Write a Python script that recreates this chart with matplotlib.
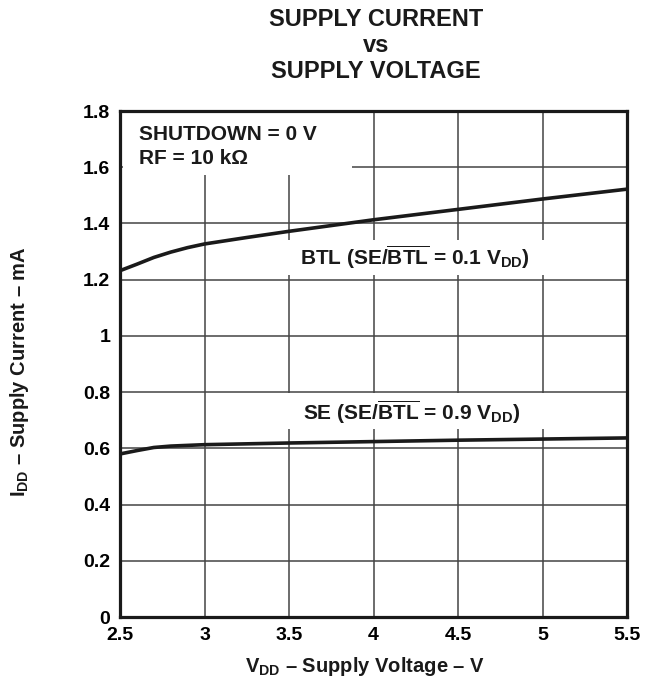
import matplotlib
matplotlib.use("Agg")
import matplotlib.pyplot as plt
from matplotlib.patches import Rectangle

plt.rcParams['font.family'] = ['Liberation Sans', 'DejaVu Sans']
plt.rcParams['font.weight'] = 'bold'
plt.rcParams['mathtext.fontset'] = 'custom'
plt.rcParams['mathtext.rm'] = 'Liberation Sans:bold'
plt.rcParams['mathtext.bf'] = 'Liberation Sans:bold'
plt.rcParams['mathtext.it'] = 'Liberation Sans:bold'
plt.rcParams['mathtext.default'] = 'rm'

# Data
vdd_btl = [2.5, 2.6, 2.7, 2.8, 2.9, 3.0, 3.25, 3.5, 4.0, 4.5, 5.0, 5.5]
idd_btl = [1.232, 1.255, 1.279, 1.298, 1.314, 1.327, 1.350, 1.372, 1.413, 1.450, 1.487, 1.522]
vdd_se = [2.5, 2.6, 2.7, 2.8, 3.0, 3.5, 4.0, 4.5, 5.0, 5.5]
idd_se = [0.580, 0.592, 0.603, 0.608, 0.613, 0.619, 0.624, 0.629, 0.633, 0.637]
xticks = [2.5, 3, 3.5, 4, 4.5, 5, 5.5]
xticklabels = ['2.5', '3', '3.5', '4', '4.5', '5', '5.5']
yticks = [0, 0.2, 0.4, 0.6, 0.8, 1.0, 1.2, 1.4, 1.6, 1.8]
yticklabels = ['0', '0.2', '0.4', '0.6', '0.8', '1', '1.2', '1.4', '1.6', '1.8']

fig = plt.figure(figsize=(6.46, 6.83), dpi=100)
ax = fig.add_axes([120/646, 66/683, 507/646, 506/683])

ax.set_xlim(2.5, 5.5)
ax.set_ylim(0, 1.8)
ax.set_xticks(xticks)
ax.set_xticklabels(xticklabels, fontsize=14, fontweight='bold')
ax.set_yticks(yticks)
ax.set_yticklabels(yticklabels, fontsize=14, fontweight='bold')
ax.tick_params(length=0, pad=7)
ax.grid(True, color='#444444', linewidth=1.1, zorder=1)
ax.set_axisbelow(True)
for s in ax.spines.values():
    s.set_linewidth(2.3)
    s.set_color('#1a1a1a')
    s.set_zorder(5)

ax.plot(vdd_btl, idd_btl, color='#1a1a1a', linewidth=2.6, zorder=4, solid_capstyle='butt')
ax.plot(vdd_se, idd_se, color='#1a1a1a', linewidth=2.6, zorder=4, solid_capstyle='butt')

# white backgrounds behind the annotations (they interrupt the grid)
ax.add_patch(Rectangle((0.005, 0.873), 0.452, 0.125, transform=ax.transAxes,
                       facecolor='white', edgecolor='none', zorder=2))
ax.add_patch(Rectangle((0.325, 0.675), 0.55, 0.071, transform=ax.transAxes,
                       facecolor='white', edgecolor='none', zorder=2))
ax.add_patch(Rectangle((0.325, 0.372), 0.55, 0.071, transform=ax.transAxes,
                       facecolor='white', edgecolor='none', zorder=2))

ax.text(0.037, 0.972, 'SHUTDOWN = 0 V\nRF = 10 kΩ', transform=ax.transAxes,
        fontsize=15, fontweight='bold', va='top', ha='left', linespacing=1.35,
        color='#1a1a1a', zorder=3)
ax.text(0.355, 0.711, r'BTL (SE/$\overline{\mathrm{BTL}}$ = 0.1 V$_{\mathrm{DD}}$)',
        transform=ax.transAxes, fontsize=15, fontweight='bold', va='center', ha='left',
        color='#1a1a1a', zorder=3)
ax.text(0.361, 0.405, r'SE (SE/$\overline{\mathrm{BTL}}$ = 0.9 V$_{\mathrm{DD}}$)',
        transform=ax.transAxes, fontsize=15, fontweight='bold', va='center', ha='left',
        color='#1a1a1a', zorder=3)

fig.text(376/646, 1 - 20/683, 'SUPPLY CURRENT', ha='center', va='center', fontsize=17,
         fontweight='bold', color='#1a1a1a')
fig.text(376/646, 1 - 46/683, 'vs', ha='center', va='center', fontsize=17,
         fontweight='bold', color='#1a1a1a')
fig.text(376/646, 1 - 72/683, 'SUPPLY VOLTAGE', ha='center', va='center', fontsize=17,
         fontweight='bold', color='#1a1a1a')

fig.text(365/646, 1 - 666/683, r'V$_{\mathrm{DD}}$ – Supply Voltage – V', ha='center', va='center',
         fontsize=14.5, fontweight='bold', color='#1a1a1a')
fig.text(20/646, 1 - 372/683, r'I$_{\mathrm{DD}}$ – Supply Current – mA', ha='center', va='center',
         rotation=90, fontsize=14.5, fontweight='bold', color='#1a1a1a')

fig.savefig('out.png', dpi=100, facecolor='white')
